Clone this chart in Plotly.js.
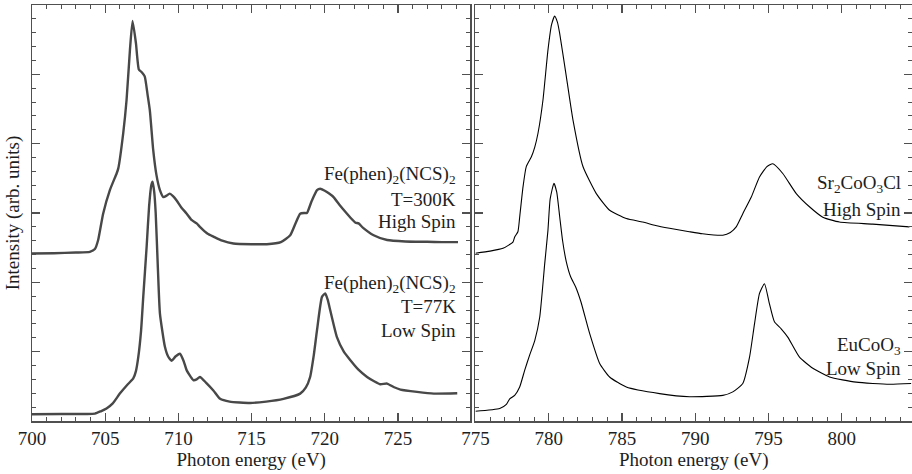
<!DOCTYPE html>
<html>
<head>
<meta charset="utf-8">
<script src="https://cdn.plot.ly/plotly-3.0.1.min.js"></script>
<style>
  html, body { margin: 0; padding: 0; background: #fff; }
  #chart { width: 912px; height: 474px; }
</style>
</head>
<body>
<div id="chart"></div>
<script>
// ---- Data ----
// Left panel: Fe(phen)2(NCS)2, T=300K High Spin
const feHighX = [700, 701.5, 703, 703.95, 704.3, 704.52, 704.86, 705.32, 705.78, 705.89, 706.23, 706.46, 706.69, 706.87,
  707.1, 707.3, 707.5, 707.7, 707.9, 708.05, 708.28, 708.5, 708.74, 708.97, 709.2, 709.4, 709.65, 709.88,
  710.2, 710.57, 710.9, 711.25, 711.47, 712.0, 712.39, 713, 713.76, 715, 716.04, 717, 717.64, 718.0, 718.32,
  718.6, 718.78, 719.1, 719.47, 719.69, 720.0, 720.3, 720.6, 721.0, 721.52, 721.9, 722.1, 722.31, 722.6,
  723.34, 724.26, 725.5, 727, 728, 729.1];
const feHighY = [2.415, 2.42, 2.43, 2.44, 2.48, 2.61, 2.99, 3.33, 3.57, 3.64, 4.15, 4.63, 5.35, 5.77,
  5.45, 5.07, 5.03, 4.97, 4.7, 4.48, 3.91, 3.55, 3.33, 3.23, 3.25, 3.28, 3.24, 3.18,
  3.08, 2.99, 2.9, 2.85, 2.80, 2.70, 2.66, 2.60, 2.56, 2.55, 2.55, 2.58, 2.68, 2.85, 2.99,
  3.0, 3.0, 3.17, 3.33, 3.35, 3.32, 3.28, 3.23, 3.12, 2.99, 2.9, 2.86, 2.85, 2.79,
  2.68, 2.61, 2.59, 2.585, 2.58, 2.58];

// Left panel: Fe(phen)2(NCS)2, T=77K Low Spin
const feLowX = [700, 702, 704.3, 704.7, 705.09, 705.5, 706.0, 706.5, 706.91, 707.1, 707.26, 707.45, 707.6, 707.83,
  708.0, 708.15, 708.24, 708.35, 708.45, 708.6, 708.74, 709.08, 709.3, 709.54, 709.8, 710.1, 710.35, 710.57,
  711.02, 711.25, 711.47, 711.9, 712.39, 712.85, 713.5, 714.9, 716, 717.18, 718.32, 718.7, 719.0, 719.25,
  719.47, 719.81, 720.03, 720.2, 720.37, 720.83, 721.3, 721.75, 722.3, 722.89, 723.4, 723.8, 724.26, 724.7,
  725.17, 726.3, 727.45, 729.05];
const feLowY = [0.097, 0.10, 0.107, 0.14, 0.18, 0.25, 0.395, 0.52, 0.61, 0.72, 0.92, 1.3, 1.79, 2.51,
  3.1, 3.40, 3.45, 3.3, 3.0, 2.2, 1.55, 1.07, 0.93, 0.87, 0.93, 0.97, 0.87, 0.73,
  0.59, 0.6, 0.635, 0.55, 0.44, 0.32, 0.28, 0.26, 0.28, 0.32, 0.395, 0.48, 0.635, 0.95,
  1.31, 1.79, 1.84, 1.75, 1.60, 1.21, 1.0, 0.876, 0.74, 0.635, 0.57, 0.53, 0.54, 0.49,
  0.453, 0.42, 0.395, 0.40];

// Right panel: Sr2CoO3Cl High Spin
const srX = [775, 776, 776.88, 777.3, 777.56, 777.68, 777.9, 778.02, 778.25, 778.47, 778.82, 779.05, 779.27, 779.61,
  779.95, 780.2, 780.41, 780.6, 780.75, 781.21, 781.66, 782.34, 783.25, 784.16, 785.3, 786.43, 787.3, 788.25,
  789.6, 790.5, 791.89, 792.4, 792.8, 793.25, 793.83, 794.39, 794.9, 795.3, 795.98, 796.9, 797.8, 798.71,
  799.85, 802.12, 804.62];
const srY = [2.42, 2.45, 2.49, 2.54, 2.58, 2.655, 2.73, 2.94, 3.38, 3.67, 3.81, 3.95, 4.15, 4.63,
  5.35, 5.72, 5.84, 5.75, 5.59, 4.96, 4.34, 3.67, 3.28, 3.04, 2.92, 2.87, 2.82, 2.78,
  2.73, 2.70, 2.68, 2.72, 2.80, 2.99, 3.23, 3.52, 3.67, 3.71, 3.57, 3.28, 3.09, 2.94,
  2.87, 2.84, 2.80];

// Right panel: EuCoO3 Low Spin
const euX = [775, 776.66, 777.11, 777.34, 777.68, 778.02, 778.36, 778.7, 779.05, 779.39, 779.73, 779.95, 780.1, 780.36,
  780.55, 780.75, 780.95, 781.2, 781.5, 781.85, 782.2, 782.8, 783.48, 784.16, 785.3, 787.57, 789.62, 791.89,
  792.57, 793.25, 793.71, 794.05, 794.39, 794.73, 795.07, 795.41, 795.87, 796.32, 797.12, 798.03, 799.17, 800.99,
  803.26, 804.74];
const euY = [0.14, 0.18, 0.24, 0.32, 0.37, 0.49, 0.73, 0.95, 1.16, 1.50, 2.27, 2.75, 3.2, 3.43,
  3.3, 2.95, 2.6, 2.3, 2.08, 1.93, 1.72, 1.26, 0.83, 0.635, 0.49, 0.395, 0.35, 0.37,
  0.42, 0.54, 0.92, 1.40, 1.84, 1.98, 1.69, 1.43, 1.33, 1.21, 0.92, 0.76, 0.635, 0.56,
  0.53, 0.54];

// Tick labels
const leftTicks = [700, 705, 710, 715, 720, 725];
const rightTicks = [775, 780, 785, 790, 795, 800];

// Label texts
const labelFe = "Fe(phen)<sub>2</sub>(NCS)<sub>2</sub>";
const labelT300 = "T=300K";
const labelT77 = "T=77K";
const labelHigh = "High Spin";
const labelLow = "Low Spin";
const labelSr = "Sr<sub>2</sub>CoO<sub>3</sub>Cl";
const labelEu = "EuCoO<sub>3</sub>";
const xTitle = "Photon energy (eV)";
const yTitle = "Intensity (arb. units)";

// ---- Chart ----
const FONT = "'Liberation Serif', 'Times New Roman', serif";
const AX = "#505050";
const TXT = "#1e1e1e";

const leftLine = {color: "#484848", width: 2.4, shape: "spline", smoothing: 0.5};
const rightLine = {color: "#000000", width: 1.1, shape: "spline", smoothing: 0.5};

const traces = [
  {x: feHighX, y: feHighY, xaxis: "x", yaxis: "y", mode: "lines", line: leftLine, hoverinfo: "skip"},
  {x: feLowX, y: feLowY, xaxis: "x", yaxis: "y", mode: "lines", line: leftLine, hoverinfo: "skip"},
  {x: srX, y: srY, xaxis: "x2", yaxis: "y2", mode: "lines", line: rightLine, hoverinfo: "skip"},
  {x: euX, y: euY, xaxis: "x2", yaxis: "y2", mode: "lines", line: rightLine, hoverinfo: "skip"}
];

function xAxis(domain, range, ticks, anchor) {
  return {
    domain: domain, range: range, anchor: anchor,
    tickmode: "array", tickvals: ticks, ticktext: ticks.map(String),
    ticks: "inside", ticklen: 8, tickwidth: 1.2, tickcolor: AX,
    minor: {dtick: 1, ticks: "inside", ticklen: 4, tickwidth: 1, tickcolor: AX},
    showline: true, linecolor: AX, linewidth: 1.5, mirror: "ticks",
    showgrid: false, zeroline: false,
    tickfont: {family: FONT, size: 19, color: TXT},
    title: {text: xTitle, font: {family: FONT, size: 19, color: TXT}, standoff: 4},
    automargin: false
  };
}
function yAxis(anchor, withTitle) {
  const a = {
    anchor: anchor, range: [0, 6], dtick: 1, tick0: 0,
    ticks: "inside", ticklen: 8, tickwidth: 1.2, tickcolor: AX,
    minor: {dtick: 0.2, ticks: "inside", ticklen: 4, tickwidth: 1, tickcolor: AX},
    showline: true, linecolor: AX, linewidth: 1.5, mirror: "ticks",
    showgrid: false, zeroline: false, showticklabels: false,
    automargin: false
  };
  if (withTitle) a.title = {text: yTitle, font: {family: FONT, size: 19, color: TXT}, standoff: 6};
  return a;
}

function ann(xref, yref, x, y, text) {
  return {xref: xref, yref: yref, x: x, y: y, text: text, showarrow: false,
    xanchor: "right", yanchor: "middle", align: "right",
    font: {family: FONT, size: 19, color: TXT}};
}

const layout = {
  width: 912, height: 474,
  margin: {l: 32, r: 0, t: 5, b: 53},
  paper_bgcolor: "#fff", plot_bgcolor: "#fff",
  showlegend: false,
  font: {family: FONT, size: 19, color: TXT},
  xaxis: xAxis([0, 0.4982], [700, 729.95], leftTicks, "y"),
  yaxis: yAxis("x", true),
  xaxis2: xAxis([0.5039, 1], [775, 804.8], rightTicks, "y2"),
  yaxis2: yAxis("x2", false),
  annotations: [
    ann("x", "y", 729.1, 3.55, labelFe),
    ann("x", "y", 729.1, 3.20, labelT300),
    ann("x", "y", 729.1, 2.88, labelHigh),
    ann("x", "y", 729.1, 1.98, labelFe),
    ann("x", "y", 729.1, 1.65, labelT77),
    ann("x", "y", 729.1, 1.31, labelLow),
    ann("x2", "y2", 804.2, 3.42, labelSr),
    ann("x2", "y2", 804.2, 3.05, labelHigh),
    ann("x2", "y2", 804.2, 1.08, labelEu),
    ann("x2", "y2", 804.2, 0.76, labelLow)
  ]
};

Plotly.newPlot("chart", traces, layout, {staticPlot: true, displayModeBar: false});
</script>
</body>
</html>
